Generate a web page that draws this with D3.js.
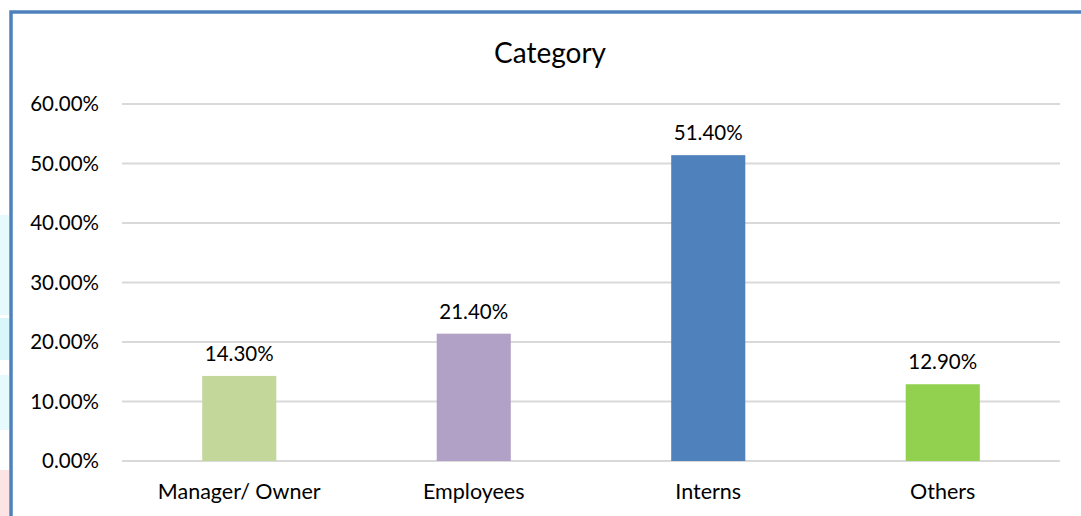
<!DOCTYPE html>
<html><head><meta charset="utf-8">
<script src="https://cdn.jsdelivr.net/npm/d3@7"></script>
<style>body{margin:0;background:#fff;} svg{display:block;}</style>
</head><body>
<svg id="c" width="1081" height="516"></svg>
<script>
const categories = ["Manager/ Owner", "Employees", "Interns", "Others"];
const values = [0.143, 0.214, 0.514, 0.129];
const colors = ["#c4d79b", "#b2a1c7", "#4f81bd", "#92d050"];
const yTicks = [0, 0.1, 0.2, 0.3, 0.4, 0.5, 0.6];
const title = "Category";

const svg = d3.select("#c");
const font = "Lato, 'Open Sans', sans-serif";

// background artifacts on left edge
[[0,215,9,100,"#e6f9fc"],[0,318,9,42,"#d9f6fb"],[0,375,9,55,"#e6f9fc"],[0,470,9,46,"#fde4e4"]].forEach(r=>{
  svg.append("rect").attr("x",r[0]).attr("y",r[1]).attr("width",r[2]).attr("height",r[3]).attr("fill",r[4]);
});
// frame border
svg.append("rect").attr("x",11).attr("y",12).attr("width",1090).attr("height",520)
  .attr("fill","none").attr("stroke","#4f81bd").attr("stroke-width",3.5);

const x = d3.scaleBand().domain(categories).range([122, 1060]).paddingInner(0.684).paddingOuter(0.342);
const y = d3.scaleLinear().domain([0, 0.6]).range([461, 104]);

const g = svg.append("g");
g.selectAll("line.grid").data(yTicks).join("line").attr("class","grid")
  .attr("x1",122).attr("x2",1060).attr("y1",d=>y(d)).attr("y2",d=>y(d))
  .attr("stroke","#d9d9d9").attr("stroke-width",2);

g.selectAll("text.ytick").data(yTicks).join("text").attr("class","ytick")
  .attr("x",99).attr("y",d=>y(d)).attr("dy","0.36em").attr("text-anchor","end")
  .attr("font-family",font).attr("font-size",20.5).attr("fill","#000")
  .text(d=>d3.format(".2%")(d));

g.selectAll("rect.bar").data(values).join("rect").attr("class","bar")
  .attr("x",(d,i)=>x(categories[i])).attr("width",x.bandwidth())
  .attr("y",d=>y(d)).attr("height",d=>y(0)-y(d)).attr("fill",(d,i)=>colors[i]);

g.selectAll("text.lbl").data(values).join("text").attr("class","lbl")
  .attr("x",(d,i)=>x(categories[i])+x.bandwidth()/2).attr("y",d=>y(d)-15)
  .attr("text-anchor","middle").attr("font-family",font).attr("font-size",20.5).attr("fill","#000")
  .text(d=>d3.format(".2%")(d));

g.selectAll("text.xcat").data(categories).join("text").attr("class","xcat")
  .attr("x",d=>x(d)+x.bandwidth()/2).attr("y",499)
  .attr("text-anchor","middle").attr("font-family",font).attr("font-size",21.5).attr("fill","#000")
  .text(d=>d);

svg.append("text").attr("x",550).attr("y",63).attr("text-anchor","middle")
  .attr("font-family",font).attr("font-size",28).attr("fill","#000").text(title);
</script>
</body></html>
